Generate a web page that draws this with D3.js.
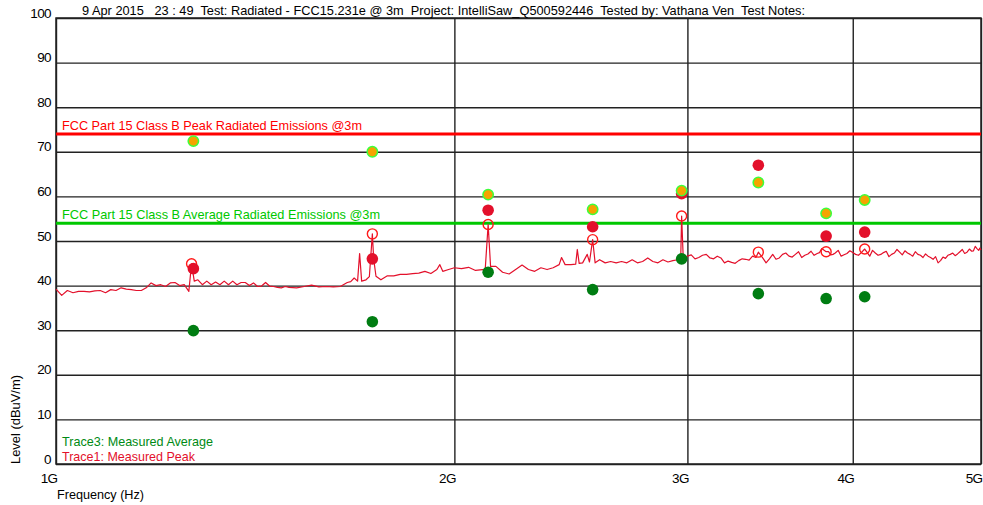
<!DOCTYPE html>
<html>
<head>
<meta charset="utf-8">
<script src="https://cdn.jsdelivr.net/npm/d3@7"></script>
<style>
    body { margin: 0; background: #fff; }
    svg { display: block; font-family: "Liberation Sans", Arial, sans-serif; }
</style>
</head>
<body>
<svg width="983" height="505"></svg>
<script>
// axis ticks
const yTicks = [0, 10, 20, 30, 40, 50, 60, 70, 80, 90, 100];
const xTicks = [1e9, 2e9, 3e9, 4e9, 5e9];
const xTickLabels = ["1G", "2G", "3G", "4G", "5G"];

// limit lines (dBuV/m)
const peakLimit = 74;
const avgLimit = 54;

// Trace1 sweep: frequency (MHz) and level (dBuV/m)
const traceMHz = [1000, 1010, 1020, 1030, 1040, 1050, 1060, 1070, 1080, 1090, 1100, 1110, 1120, 1130, 1140, 1150,
    1160, 1170, 1180, 1190, 1200, 1210, 1220, 1230, 1240, 1250, 1260, 1266, 1272, 1280, 1290, 1300, 1310, 1320,
    1330, 1340, 1350, 1360, 1370, 1380, 1390, 1400, 1410, 1420, 1430, 1440, 1450, 1460, 1470, 1480, 1490, 1500,
    1520, 1540, 1560, 1580, 1600, 1620, 1640, 1660, 1670, 1680, 1690, 1696, 1702, 1715, 1725, 1734, 1738, 1745,
    1760, 1780, 1800, 1820, 1840, 1860, 1880, 1900, 1920, 1940, 1950, 1960, 1980, 2000, 2025, 2050, 2075, 2100,
    2110, 2121, 2130, 2150, 2175, 2200, 2225, 2250, 2275, 2300, 2325, 2350, 2375, 2400, 2410, 2425, 2450, 2470,
    2477, 2485, 2500, 2520, 2530, 2544, 2555, 2575, 2600, 2625, 2650, 2675, 2700, 2725, 2750, 2775, 2800, 2825,
    2850, 2875, 2900, 2925, 2950, 2965, 2970, 2978,
    3000, 3020, 3040, 3060, 3080, 3100, 3120, 3140, 3160, 3180, 3200, 3220, 3240, 3260, 3280, 3300, 3320, 3340,
    3360, 3380, 3394, 3420, 3440, 3460, 3480, 3500, 3520, 3540, 3560, 3580, 3600, 3620, 3640, 3660, 3680, 3700,
    3720, 3740, 3760, 3775, 3790, 3819, 3835, 3850, 3865, 3880, 3900, 3920, 3940, 3960, 3980, 4000, 4020, 4040,
    4060, 4084, 4100, 4120, 4140, 4160, 4180, 4200, 4220, 4240, 4260, 4280, 4300, 4320, 4340, 4360, 4380, 4400,
    4420, 4440, 4460, 4480, 4500, 4520, 4540, 4560, 4580, 4600, 4620, 4640, 4660, 4680, 4700, 4720, 4740, 4760,
    4780, 4800, 4820, 4840, 4860, 4880, 4900, 4920, 4935, 4950, 4965, 4980, 4990, 5000];
const traceLevel = [39.2, 37.8, 38.9, 38.4, 38.7, 38.7, 38.6, 38.8, 38.9, 38.4, 39.1, 38.9, 39.5, 39.2, 39.1, 38.9,
    38.9, 39.5, 40.6, 40.0, 40.2, 39.8, 40.6, 40.7, 40.0, 40.2, 38.7, 44.9, 41.0, 41.3, 40.2, 41.0, 40.2, 40.8,
    40.2, 41.0, 40.2, 41.0, 40.2, 40.7, 40.7, 40.0, 40.6, 39.8, 39.9, 40.7, 39.9, 39.8, 39.6, 39.5, 39.8, 39.6,
    39.5, 39.8, 40.1, 39.7, 39.8, 39.7, 39.8, 40.7, 40.9, 41.7, 41.0, 47.2, 41.0, 41.3, 42.0, 51.6, 46.0, 42.1,
    41.3, 42.2, 42.2, 42.5, 42.5, 42.7, 42.8, 43.2, 42.7, 43.6, 44.7, 43.2, 43.6, 44.0, 43.8, 44.1, 43.4, 43.6,
    43.4, 53.7, 44.3, 44.3, 43.0, 42.6, 43.6, 44.6, 43.6, 43.2, 44.0, 43.6, 44.0, 44.7, 46.3, 44.7, 44.7, 44.8,
    48.1, 45.0, 45.1, 47.0, 45.3, 50.3, 45.1, 45.8, 45.1, 45.4, 45.1, 45.4, 45.1, 45.8, 45.1, 45.4, 46.2, 45.4,
    45.1, 45.8, 45.3, 45.6, 45.8, 45.5, 55.6, 46.5,
    46.6, 46.9, 46.0, 46.3, 46.8, 47.0, 46.2, 46.0, 46.6, 46.2, 45.1, 45.5, 45.2, 45.0, 45.6, 46.0, 45.9, 45.7,
    46.6, 46.3, 47.5, 46.2, 45.1, 46.0, 47.0, 45.9, 46.2, 47.0, 47.3, 46.6, 46.4, 47.0, 47.6, 46.3, 46.8, 47.1,
    47.7, 46.8, 47.2, 47.4, 48.3, 47.6, 47.6, 46.9, 47.0, 47.3, 47.9, 46.6, 46.9, 47.2, 47.8, 47.4, 47.0, 46.8,
    47.4, 48.2, 47.5, 46.6, 47.9, 47.3, 46.8, 47.0, 47.4, 47.7, 46.5, 47.0, 47.3, 48.1, 47.5, 46.9, 47.8, 47.3,
    47.0, 46.6, 47.6, 47.0, 46.8, 46.3, 47.1, 46.6, 46.3, 45.9, 46.5, 45.1, 45.6, 46.4, 46.1, 46.8, 47.0, 47.3,
    46.7, 47.1, 47.6, 48.1, 47.2, 47.5, 48.2, 47.7, 47.8, 48.8, 48.3, 47.9, 48.4, 48.0];

// marker points (GHz / dBuV/m)
const markerGHz = [1.270, 1.734, 2.121, 2.544, 2.970, 3.394, 3.819, 4.084];
const tracePeakGHz = [1.266, 1.734, 2.121, 2.544, 2.970, 3.394, 3.819, 4.084];
const tracePeakLevel = [44.9, 51.6, 53.7, 50.3, 55.6, 47.5, 47.6, 48.2];
const measuredPeak = [43.8, 46.0, 56.9, 53.2, 60.6, 67.0, 51.1, 52.0];
const quasiPeak = [72.4, 70.0, 60.4, 57.1, 61.3, 63.1, 56.2, 59.2];
const measuredAvg = [29.9, 31.9, 43.0, 39.1, 46.0, 38.2, 37.1, 37.5];

const titleText = "9 Apr 2015   23 : 49  Test: Radiated - FCC15.231e @ 3m  Project: IntelliSaw_Q500592446  Tested by: Vathana Ven  Test Notes:";

const area = { left: 56, right: 981, top: 18, bottom: 464 };
const svg = d3.select("svg");

const scaleX = d3.scaleLog().domain([1e9, 5e9]).range([area.left, area.right]);
const scaleY = d3.scaleLinear().domain([0, 100]).range([area.bottom, area.top]);

// horizontal grid + y labels
const gy = svg.append("g")
    .attr("transform", `translate(${area.left},0)`)
    .call(d3.axisLeft(scaleY).tickValues(yTicks).tickSize(-(area.right - area.left)).tickPadding(5));
gy.select(".domain").remove();
gy.selectAll("line").attr("stroke", "#222").attr("stroke-width", 1.4);
gy.selectAll("text")
    .attr("dy", -1)
    .attr("fill", "#000")
    .style("font-size", "13.5px")
    .style("letter-spacing", "-0.6px")
    .style("font-family", "'Liberation Sans', Arial, sans-serif");

// vertical grid + x labels
const gx = svg.append("g")
    .attr("transform", `translate(0,${area.bottom})`)
    .call(d3.axisBottom(scaleX).tickValues(xTicks).tickFormat((d, i) => xTickLabels[i]).tickSize(-(area.bottom - area.top)));
gx.select(".domain").remove();
gx.selectAll("line").attr("stroke", "#222").attr("stroke-width", 1.4);
gx.selectAll("text")
    .attr("y", 19)
    .attr("dy", 0)
    .attr("x", 1)
    .attr("fill", "#000")
    .style("text-anchor", "end")
    .style("font-size", "13.5px")
    .style("letter-spacing", "-0.6px")
    .style("font-family", "'Liberation Sans', Arial, sans-serif");

// frame
svg.append("rect")
    .attr("x", area.left).attr("y", area.top)
    .attr("width", area.right - area.left).attr("height", area.bottom - area.top)
    .attr("fill", "none").attr("stroke", "#222").attr("stroke-width", 1.5);

// limit lines
const limits = [
    { v: peakLimit, color: "#ff0000", label: "FCC Part 15 Class B Peak Radiated Emissions @3m", len: 300 },
    { v: avgLimit, color: "#00c800", label: "FCC Part 15 Class B Average Radiated Emissions @3m", len: 318 }
];
limits.forEach(l => {
    svg.append("line")
        .attr("x1", area.left).attr("x2", area.right)
        .attr("y1", scaleY(l.v)).attr("y2", scaleY(l.v))
        .attr("stroke", l.color).attr("stroke-width", 3);
    svg.append("text")
        .attr("x", 62).attr("y", scaleY(l.v) - 4)
        .attr("fill", l.color)
        .attr("textLength", l.len).attr("lengthAdjust", "spacingAndGlyphs")
        .style("font-size", "13px")
        .text(l.label);
});

// trace
const trace = traceMHz.map((f, i) => ({ f: f * 1e6, v: traceLevel[i] }));
svg.append("path")
    .datum(trace)
    .attr("fill", "none")
    .attr("stroke", "#e3102b")
    .attr("stroke-width", 1.2)
    .attr("stroke-linejoin", "round")
    .attr("d", d3.line().x(d => scaleX(d.f)).y(d => scaleY(d.v)));

const drawDots = (freqs, values, fill, stroke, sw, r) => {
    svg.append("g")
        .selectAll("circle")
        .data(values)
        .enter()
        .append("circle")
        .attr("cx", (d, i) => scaleX(freqs[i] * 1e9))
        .attr("cy", d => scaleY(d))
        .attr("r", r)
        .attr("fill", fill)
        .attr("stroke", stroke)
        .attr("stroke-width", sw);
};

drawDots(tracePeakGHz, tracePeakLevel, "none", "#ff1a1a", 1.4, 5);
drawDots(markerGHz, measuredPeak, "#e3102b", "none", 0, 5.8);
drawDots(markerGHz, quasiPeak, "#f5a300", "#3cff3c", 1.5, 5.2);
drawDots(markerGHz, measuredAvg, "#007d12", "none", 0, 5.8);

// title
svg.append("text")
    .attr("x", 82).attr("y", 15)
    .attr("xml:space", "preserve")
    .attr("textLength", 723).attr("lengthAdjust", "spacingAndGlyphs")
    .style("white-space", "pre")
    .style("font-size", "13px")
    .text(titleText);

// legend
svg.append("text")
    .attr("x", 62).attr("y", 446)
    .attr("fill", "#008a14")
    .attr("textLength", 151).attr("lengthAdjust", "spacingAndGlyphs")
    .style("font-size", "13px")
    .text("Trace3: Measured Average");
svg.append("text")
    .attr("x", 62).attr("y", 461)
    .attr("fill", "#e3102b")
    .attr("textLength", 133).attr("lengthAdjust", "spacingAndGlyphs")
    .style("font-size", "13px")
    .text("Trace1: Measured Peak");

// axis titles
svg.append("text")
    .attr("x", 57).attr("y", 499)
    .attr("textLength", 87).attr("lengthAdjust", "spacingAndGlyphs")
    .style("font-size", "13px")
    .text("Frequency (Hz)");
svg.append("text")
    .attr("transform", "translate(20,464) rotate(-90)")
    .attr("textLength", 89).attr("lengthAdjust", "spacingAndGlyphs")
    .style("font-size", "13px")
    .text("Level (dBuV/m)");
</script>
</body>
</html>
